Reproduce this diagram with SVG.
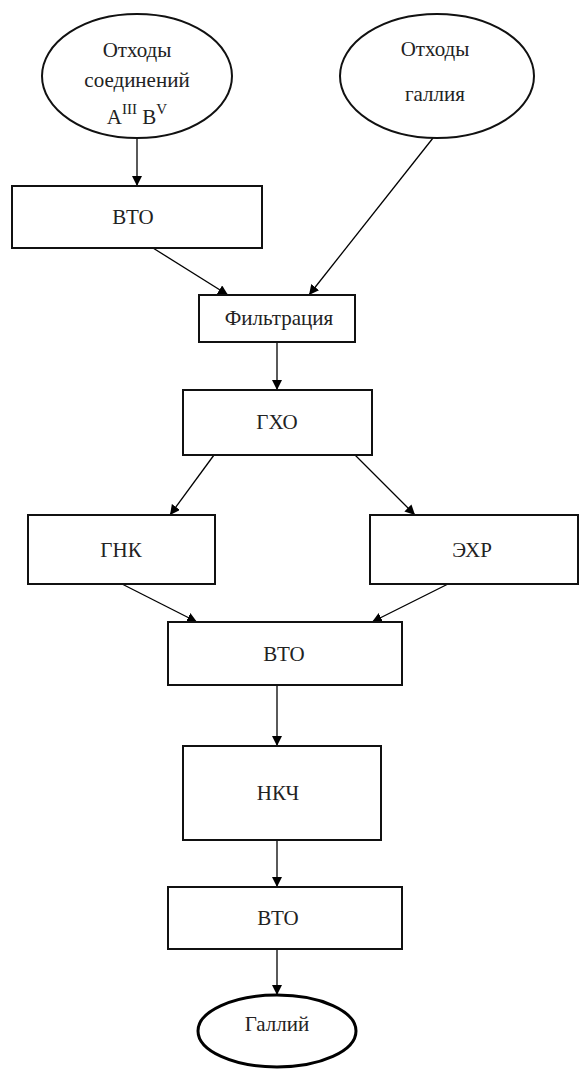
<svg xmlns="http://www.w3.org/2000/svg" width="580" height="1071" viewBox="0 0 580 1071">
<style>
  .box { fill: #fff; stroke: #111; stroke-width: 2; }
  .ell { fill: #fff; stroke: #111; stroke-width: 2; }
  .ellb { fill: #fff; stroke: #000; stroke-width: 3; }
  .lbl { font-family: "Liberation Serif", "Times New Roman", serif; font-size: 21px; fill: #222; text-anchor: middle; }
  .con { stroke: #000; stroke-width: 1.3; fill: none; marker-end: url(#arr); }
</style>
<defs>
  <marker id="arr" markerWidth="10" markerHeight="10" refX="10" refY="5" orient="auto" markerUnits="userSpaceOnUse">
    <path d="M0,0 L10,5 L0,10 Z" fill="#000"/>
  </marker>
</defs>
<rect width="580" height="1071" fill="#fff"/>
<g id="connectors">
  <line class="con" x1="137" y1="138" x2="137" y2="186"/>
  <line class="con" x1="153" y1="248" x2="228" y2="295"/>
  <line class="con" x1="433" y1="138" x2="309" y2="295"/>
  <line class="con" x1="277" y1="342" x2="277" y2="390"/>
  <line class="con" x1="214" y1="455" x2="170" y2="515"/>
  <line class="con" x1="355" y1="455" x2="415" y2="515"/>
  <line class="con" x1="122" y1="584" x2="197" y2="622"/>
  <line class="con" x1="448" y1="584" x2="372" y2="622"/>
  <line class="con" x1="277" y1="685" x2="277" y2="746"/>
  <line class="con" x1="277" y1="840" x2="277" y2="887"/>
  <line class="con" x1="277" y1="949" x2="277" y2="995"/>
</g>
<g id="n_waste_aiiibv">
  <ellipse class="ell" cx="137" cy="76" rx="95" ry="62"/>
  <text class="lbl" x="137" y="57">Отходы</text>
  <text class="lbl" x="137" y="87">соединений</text>
  <text class="lbl" x="137" y="124">A<tspan dy="-10" font-size="15">III</tspan><tspan dy="10"> B</tspan><tspan dy="-10" font-size="15">V</tspan></text>
</g>
<g id="n_waste_ga">
  <ellipse class="ell" cx="437" cy="76" rx="97" ry="62"/>
  <text class="lbl" x="435" y="56">Отходы</text>
  <text class="lbl" x="435" y="101">галлия</text>
</g>
<g id="n_vto1">
  <rect class="box" x="12" y="186" width="250" height="62"/>
  <text class="lbl" x="133" y="224">ВТО</text>
</g>
<g id="n_filtr">
  <rect class="box" x="199" y="295" width="156" height="47"/>
  <text class="lbl" x="279" y="325">Фильтрация</text>
</g>
<g id="n_gho">
  <rect class="box" x="183" y="390" width="189" height="65"/>
  <text class="lbl" x="277" y="429">ГХО</text>
</g>
<g id="n_gnk">
  <rect class="box" x="28" y="515" width="187" height="69"/>
  <text class="lbl" x="121" y="557">ГНК</text>
</g>
<g id="n_ehr">
  <rect class="box" x="370" y="515" width="208" height="69"/>
  <text class="lbl" x="472" y="557">ЭХР</text>
</g>
<g id="n_vto2">
  <rect class="box" x="168" y="622" width="234" height="63"/>
  <text class="lbl" x="284" y="661">ВТО</text>
</g>
<g id="n_nkch">
  <rect class="box" x="183" y="746" width="198" height="94"/>
  <text class="lbl" x="278" y="800">НКЧ</text>
</g>
<g id="n_vto3">
  <rect class="box" x="168" y="887" width="234" height="62"/>
  <text class="lbl" x="278" y="925">ВТО</text>
</g>
<g id="n_gallium">
  <ellipse class="ellb" cx="277" cy="1031" rx="79" ry="36"/>
  <text class="lbl" x="277" y="1031">Галлий</text>
</g>
</svg>
